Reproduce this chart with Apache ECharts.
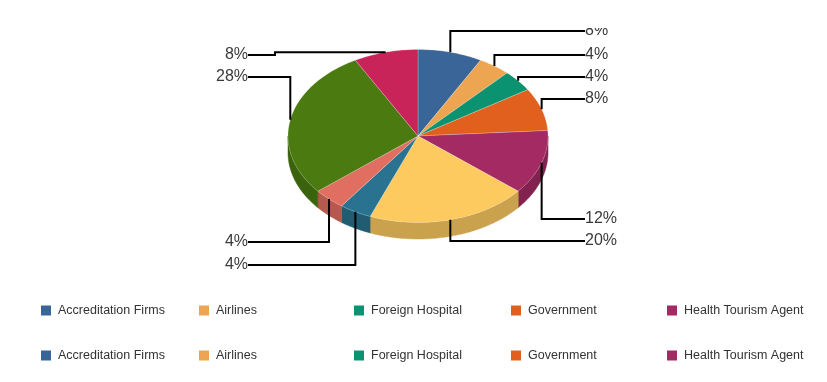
<!DOCTYPE html>
<html>
<head>
<meta charset="utf-8">
<style>html,body{margin:0;padding:0;background:#fff}#c{width:827px;height:382px}</style>
<script src="https://cdn.jsdelivr.net/npm/echarts@6/dist/echarts.min.js"></script>
</head>
<body>
<div id="c"></div>
<script>
var categories = ['Accreditation Firms','Airlines','Foreign Hospital','Government','Health Tourism Agent',
                  'Accreditation Firms','Airlines','Foreign Hospital','Government','Health Tourism Agent'];
var values = [8,4,4,8,12,20,4,4,28,8];
var sliceColors = ['#3a6598','#eda552','#0b9270','#e2601e','#a32a62','#fdca60','#2a7390','#e06f62','#4a7a10','#c8245a'];

// layout, separate from the data
var CX = 418, CY = 136, RX = 130, RY = 86.5, DEPTH = 16.5;
var leaderY = [31,55,77,99,219,241,265,242,77,55];
var LEFT_X = 248, RIGHT_X = 585;
var legendX = [41,199,354,511,667], legendY = [304,349];

var total = values.reduce(function(a,b){return a+b;},0);
function rim(t, dy){ return [CX + RX*Math.sin(t), CY - RY*Math.cos(t) + (dy||0)]; }
function arc(t1,t2,dy){
  var n = Math.max(2, Math.ceil(Math.abs(t2-t1)/0.02)), pts=[];
  for (var i=0;i<=n;i++) pts.push(rim(t1+(t2-t1)*i/n,dy));
  return pts;
}
function darken(hex,k){
  var n = parseInt(hex.slice(1),16);
  return 'rgb('+Math.round((n>>16&255)*k)+','+Math.round((n>>8&255)*k)+','+Math.round((n&255)*k)+')';
}
function makeRender(idx){
  return function(params, api){
    var before = 0;
    for (var i=0;i<idx;i++) before += values[i];
    var v = api.value(0), color = sliceColors[idx];
    var t1 = before/total*2*Math.PI, t2 = (before+v)/total*2*Math.PI, mid=(t1+t2)/2;
    var children = [];
    var a = Math.max(t1,Math.PI/2), b = Math.min(t2,1.5*Math.PI);
    if (b > a) {
      var side = darken(color,0.8);
      children.push({type:'polygon', shape:{points:arc(a,b,0).concat(arc(b,a,DEPTH))},
        style:{fill:side, stroke:side, lineWidth:0.5}});
    }
    children.push({type:'polygon', shape:{points:[[CX,CY]].concat(arc(t1,t2,0))},
      style:{fill:color, stroke:'rgba(255,255,255,0.35)', lineWidth:0.6}});
    var p = rim(mid), y = leaderY[idx], right = Math.sin(mid) > 0;
    var pts = [p,[p[0],y],[right?RIGHT_X:LEFT_X,y]];
    if (idx === 9) pts = [p,[275,p[1]],[275,y],[LEFT_X,y]];
    children.push({type:'polyline', shape:{points:pts}, style:{fill:null, stroke:'#000', lineWidth:2}});
    children.push({type:'text', style:{text:v+'%', x:right?RIGHT_X:LEFT_X, y:y,
        align:right?'left':'right', verticalAlign:'middle',
        font:'16px "Liberation Sans", Arial, sans-serif', fill:'#3a3a3a'}});
    var g = {type:'group', children:children};
    if (idx === 0) g.clipPath = {type:'rect', shape:{x:0,y:28,width:827,height:354}};
    return g;
  };
}
var legends = [];
categories.forEach(function(name,i){
  legends.push({left:legendX[i%5], top:legendY[Math.floor(i/5)], data:[name], icon:'rect',
    itemWidth:10, itemHeight:10, selectedMode:false, padding:0,
    textStyle:{fontFamily:'"Liberation Sans", Arial, sans-serif', fontSize:12.5, color:'#333', padding:[0,0,0,2]}});
});
var series = values.map(function(v,i){
  return {type:'custom', name:categories[i], coordinateSystem:'none', renderItem:makeRender(i),
    data:[[v]], itemStyle:{color:sliceColors[i]}, animation:false, silent:true};
});
var chart = echarts.init(document.getElementById('c'),null,{renderer:'canvas'});
chart.setOption({backgroundColor:'#fff', animation:false, legend:legends, series:series});
</script>
</body>
</html>
